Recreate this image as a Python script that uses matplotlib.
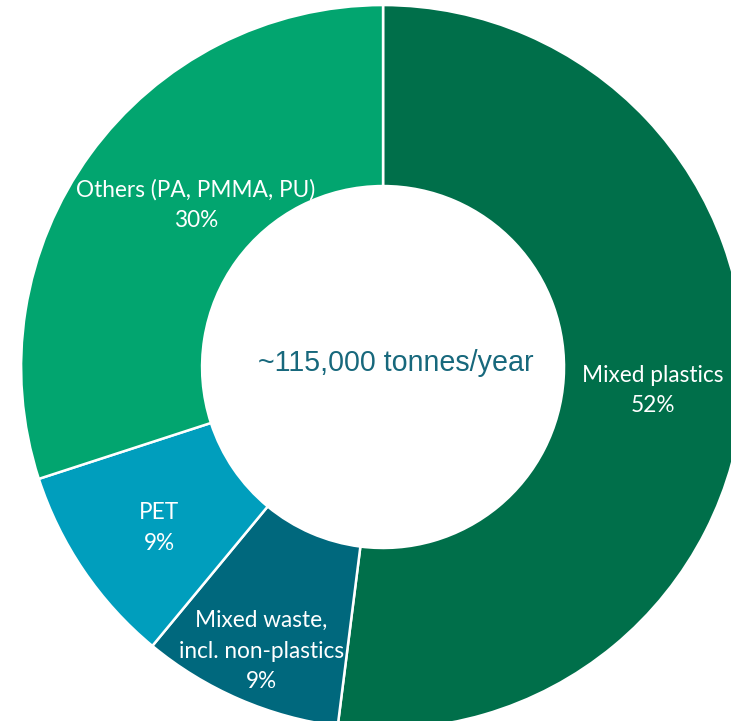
import matplotlib.pyplot as plt

# ----------------------------
# DATOS
# ----------------------------

categorias = [
    "Mixed plastics",
    "Mixed waste,\nincl. non-plastics",
    "PET",
    "Others (PA, PMMA, PU)",
]
porcentajes = [52, 9, 9, 30]
total_texto = "~115,000 tonnes/year"

# ----------------------------
# ESTILO
# ----------------------------

colores = ["#006F4A", "#00687D", "#009EBD", "#02A56F"]
color_centro = "#17687C"

# posiciones de las etiquetas (coordenadas de datos, radio exterior = 1)
pos_etiquetas = [
    (0.746, -0.064),
    (-0.337, -0.785),
    (-0.619, -0.445),
    (-0.517, 0.448),
]

# ----------------------------
# FIGURA
# ----------------------------

fig = plt.figure(figsize=(7.31, 7.21), dpi=100)
ax = fig.add_axes([0, 0, 1, 1])

ax.pie(
    porcentajes,
    colors=colores,
    startangle=90,
    counterclock=False,
    radius=1.0,
    wedgeprops=dict(width=0.5, edgecolor="white", linewidth=1.8),
)

for nombre, valor, (x, y) in zip(categorias, porcentajes, pos_etiquetas):
    ax.text(
        x, y,
        f"{nombre}\n{valor}%",
        ha="center",
        va="center",
        color="white",
        fontsize=16.3,
        family="Lato",
        linespacing=1.55,
    )

ax.text(
    0.036, 0.011,
    total_texto,
    ha="center",
    va="center",
    color=color_centro,
    fontsize=20.6,
    family="Liberation Sans",
)

# el anillo queda recortado por la derecha y por abajo
ax.set_aspect("equal")
ax.set_xlim(-1.058, 0.961)
ax.set_ylim(-0.978, 1.014)
ax.axis("off")

plt.savefig("out.png", dpi=100)
